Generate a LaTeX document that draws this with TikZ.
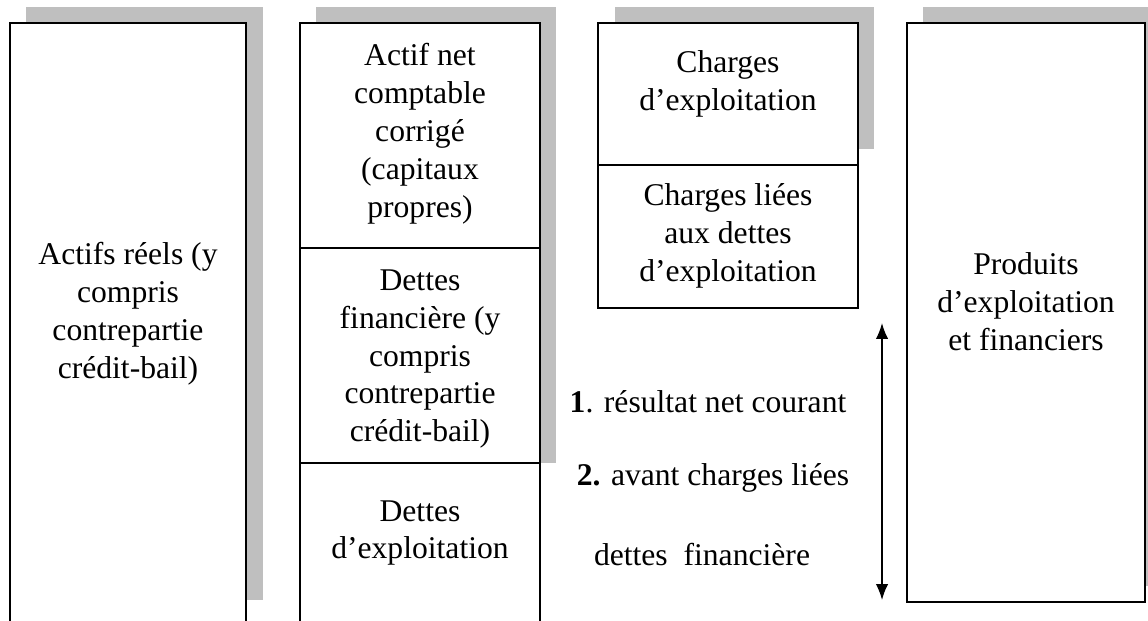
\documentclass[tikz,border=0pt]{standalone}
\usepackage{fontspec}
\setmainfont{Liberation Serif}
\usetikzlibrary{arrows.meta}

\tikzset{
	greyshadow/.style={fill=black!25},
	box/.style={line width=1.1pt, draw=black, fill=white},
	boxtext/.style={align=center, font=\fontsize{18}{21.6}\selectfont},
	dblarrow/.style={line width=0.9pt, {Latex[width=7pt,length=9pt]}-{Latex[width=7pt,length=9pt]}}
}

\begin{document}
\begin{tikzpicture}[x=0.02cm, y=-0.02cm]

	\useasboundingbox (0,0) rectangle (1148,620);
	\clip (0,0) rectangle (1148,620);

	% shadows
	\fill [greyshadow] (26,7) rectangle (263,600);
	\fill [greyshadow] (316,7) rectangle (556,233);
	\fill [greyshadow] (316,233) rectangle (556,463);
	\fill [greyshadow] (615,7) rectangle (874,149);
	\fill [greyshadow] (923,7) rectangle (1160,586);

	% boxes
	\draw [box] (10,23) rectangle (246,640);
	\draw [box] (300,23) rectangle (540,248);
	\draw [box] (300,248) rectangle (540,463);
	\draw [box] (300,463) rectangle (540,640);
	\draw [box] (598,23) rectangle (858,165);
	\draw [box] (598,165) rectangle (858,308);
	\draw [box] (907,23) rectangle (1145,602);

	\node [boxtext] (actifs) at (128,314) {Actifs réels (y\\compris\\contrepartie\\crédit-bail)};
	\node [boxtext] (anc) at (420,134) {Actif net\\comptable\\corrigé\\(capitaux\\propres)};
	\node [boxtext] (detfin) at (420,359) {Dettes\\financière (y\\compris\\contrepartie\\crédit-bail)};
	\node [boxtext] (detexp) at (420,533) {Dettes\\d’exploitation};
	\node [boxtext] (chexp) at (728,84) {Charges\\d’exploitation};
	\node [boxtext] (chdet) at (728,236) {Charges liées\\aux dettes\\d’exploitation};
	\node [boxtext] (produits) at (1026,302) {Produits\\d’exploitation\\et financiers};

	\node [boxtext] (res1) at (708,402) {\textbf{1}. résultat net courant};
	\node [boxtext] (res2) at (713,478) {\textbf{2.} avant charges liées};
	\node [boxtext] (res3) at (702,555) {dettes\ \ financière};

	\coordinate (arrtop) at (882,323);
	\coordinate (arrbot) at (882,600);
	\draw [dblarrow] (arrtop) -- (arrbot);
\end{tikzpicture}
\end{document}
